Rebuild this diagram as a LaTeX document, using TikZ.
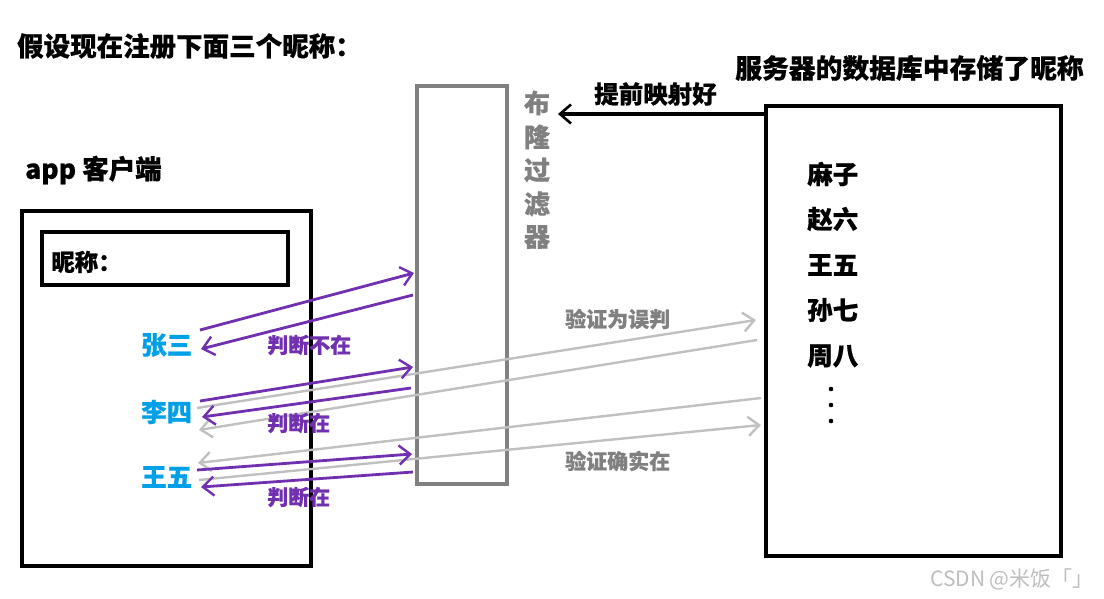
\documentclass[tikz,border=0pt]{standalone}
\usepackage{fontspec}
\setmainfont{Noto Sans CJK SC}[BoldFeatures={FakeBold=0.6}]
\newfontfamily\wmfont{Noto Sans CJK SC}
\usetikzlibrary{arrows.meta}
\definecolor{purp}{RGB}{112,48,176}
\definecolor{cyanb}{RGB}{0,160,233}
\definecolor{bfgray}{RGB}{128,128,128}
\definecolor{lgray}{RGB}{192,192,192}
\definecolor{wm}{RGB}{190,190,190}
\tikzset{
  txt/.style={inner sep=0pt, anchor=west, font=\bfseries\fontsize{25.5}{25.5}\selectfont},
  smalltxt/.style={inner sep=0pt, anchor=west, font=\bfseries\fontsize{21}{21}\selectfont},
  box/.style={draw=black, line width=3.2pt},
  chev/.style={-{Straight Barb[length=11pt,width=19pt,line width=2.4pt]}},
  parr/.style={draw=purp, line width=2.8pt, chev},
  garr/.style={draw=lgray, line width=2.4pt, chev},
}
\begin{document}
\begin{tikzpicture}[x=1pt,y=-1pt]
\useasboundingbox (0,0) rectangle (1104,598);
% titles
\node[txt, font=\bfseries\fontsize{26.5}{26.5}\selectfont] (title) at (17,46) {假设现在注册下面三个昵称：};
\node[txt, font=\bfseries\fontsize{26.5}{26.5}\selectfont] (app) at (25,170) {app 客户端};
\node[txt, font=\bfseries\fontsize{26.8}{26.8}\selectfont] (srvt) at (735,68) {服务器的数据库中存储了昵称};
% client
\draw[box] (22,211) rectangle (311,566);
\draw[box] (42,232) rectangle (288,285);
\node[txt, font=\bfseries\fontsize{23.5}{23.5}\selectfont] (nick) at (51,262) {昵称：};
% bloom filter
\draw[draw=bfgray, line width=3.2pt] (417,86) rectangle (507,484);
\foreach \c/\yy in {布/103,隆/137,过/170,滤/204,器/237}
  \node[inner sep=0pt, text=bfgray, font=\bfseries\fontsize{26}{26}\selectfont] at (537,\yy) {\c};
% server
\draw[box] (766,106) rectangle (1061,556);
\node[txt] (n1) at (807,174) {麻子};
\node[txt] (n2) at (807,219) {赵六};
\node[txt] (n3) at (807,265) {王五};
\node[txt] (n4) at (807,310) {孙七};
\node[txt] (n5) at (807,356) {周八};
\foreach \yy in {389,405,421} \fill (831,\yy) circle (2.3pt);
% mapping arrow
\coordinate (srvL) at (764,114);
\coordinate (bfR) at (558,114);
\draw[draw=black, line width=3.2pt, -{Straight Barb[length=11pt,width=19pt,line width=2.6pt]}] (srvL) -- (bfR);
\node[txt, font=\bfseries\fontsize{24.5}{24.5}\selectfont] (map) at (594,94) {提前映射好};
% client names
\node[txt, text=cyanb] (zs) at (141,345) {张三};
\node[txt, text=cyanb] (ls) at (141,412) {李四};
\node[txt, text=cyanb] (ww) at (141,477) {王五};
% gray arrows
\coordinate (g1s) at (197,408); \coordinate (g1e) at (756,320);
\coordinate (g2s) at (757,340); \coordinate (g2e) at (199,430);
\coordinate (g3s) at (761,398); \coordinate (g3e) at (198,463);
\coordinate (g4s) at (199,480); \coordinate (g4e) at (761,425);
\draw[garr] (g1s) -- (g1e);
\draw[garr] (g2s) -- (g2e);
\draw[garr] (g3s) -- (g3e);
\draw[garr] (g4s) -- (g4e);
\node[smalltxt, text=bfgray] (v1) at (565,319) {验证为误判};
\node[smalltxt, text=bfgray] (v2) at (565,461) {验证确实在};
% purple arrows
\coordinate (p1s) at (200,330); \coordinate (p1e) at (414,273);
\coordinate (p2s) at (413,295); \coordinate (p2e) at (201,349);
\coordinate (p3s) at (200,401); \coordinate (p3e) at (413,367);
\coordinate (p4s) at (411,388); \coordinate (p4e) at (202,417);
\coordinate (p5s) at (197,470); \coordinate (p5e) at (412,454);
\coordinate (p6s) at (413,472); \coordinate (p6e) at (201,487);
\draw[parr] (p1s) -- (p1e);
\draw[parr] (p2s) -- (p2e);
\draw[parr] (p3s) -- (p3e);
\draw[parr] (p4s) -- (p4e);
\draw[parr] (p5s) -- (p5e);
\draw[parr] (p6s) -- (p6e);
\node[smalltxt, text=purp] (j1) at (267,345) {判断不在};
\node[smalltxt, text=purp] (j2) at (267,423) {判断在};
\node[smalltxt, text=purp] (j3) at (267,497) {判断在};
% watermark
\node[inner sep=0pt, anchor=west, text=wm, font=\wmfont\fontsize{21}{21}\selectfont] (wmk) at (930,579) {CSDN @米饭「」};
\end{tikzpicture}
\end{document}
